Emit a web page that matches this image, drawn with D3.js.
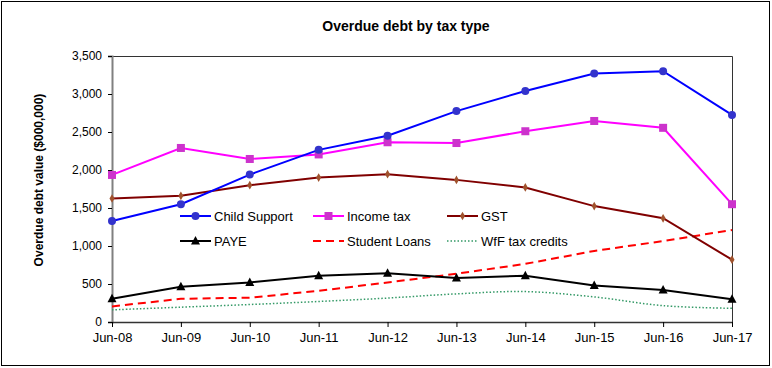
<!DOCTYPE html>
<html>
<head>
<meta charset="utf-8">
<style type="text/css">
	body{ margin:0; background:#fff; }
	svg{ display:block; font-family:"Liberation Sans", Arial, sans-serif; }
</style>
<script src="https://cdn.jsdelivr.net/npm/d3@7"></script>
</head>
<body>
<svg id="svg" width="772" height="368"></svg>
<script type="text/javascript">

	var years = ["Jun-08","Jun-09","Jun-10","Jun-11","Jun-12","Jun-13","Jun-14","Jun-15","Jun-16","Jun-17"];
	var childSupport = [1330,1550,1940,2265,2450,2775,3040,3270,3300,2725];
	var incomeTax = [1935,2290,2145,2205,2365,2355,2510,2645,2555,1550];
	var gst = [1625,1660,1800,1900,1945,1870,1770,1525,1365,820];
	var paye = [305,465,520,610,640,580,610,480,420,300];
	var studentLoans = [205,305,320,410,520,635,765,935,1065,1210];
	var wff = [160,195,230,270,315,370,400,330,215,180];
	var yTicks = [0,500,1000,1500,2000,2500,3000,3500];

	var series = [
		{name:"Child Support", values:childSupport, color:"#0000ff", fill:"#3333cc", marker:"circle"},
		{name:"Income tax", values:incomeTax, color:"#ff00ff", fill:"#cc33cc", marker:"square"},
		{name:"GST", values:gst, color:"#800000", fill:"#a0522d", marker:"diamond"},
		{name:"PAYE", values:paye, color:"#000000", fill:"#000000", marker:"triangle"},
		{name:"Student Loans", values:studentLoans, color:"#ff0000", dash:"8,5", marker:null},
		{name:"WfF tax credits", values:wff, color:"#339966", dash:"1.5,2", marker:null, smooth:true}
	];

	var svg = d3.select("#svg");
	var pLeft = 112, pRight = 732, pTop = 56, pBottom = 322;

	var x = d3.scalePoint().domain(years).range([pLeft, pRight]);
	var y = d3.scaleLinear().domain([0,3500]).range([pBottom, pTop]);

	// outer frame
	svg.append("rect").attr("x",1.5).attr("y",1.5).attr("width",768).attr("height",364)
		.style("fill","#fff").style("stroke","#000").style("stroke-width",1);

	// title
	svg.append("text").attr("x",406).attr("y",31).attr("text-anchor","middle")
		.style("font-size","14px").style("font-weight","bold").text("Overdue debt by tax type");

	// y label
	svg.append("text").attr("transform","translate(43,180) rotate(-90)").attr("text-anchor","middle")
		.style("font-size","12px").style("font-weight","bold").text("Overdue debt value ($000,000)");

	// plot area border
	svg.append("path").attr("d","M"+pLeft+","+(pTop+0.5)+"H"+(pRight+0.5)+"V"+pBottom)
		.style("fill","none").style("stroke","#333").style("stroke-width",1);

	// axes
	var yAxis = svg.append("g").attr("transform","translate("+pLeft+",0)")
		.call(d3.axisLeft(y).tickValues(yTicks).tickSize(4).tickPadding(6).tickFormat(d3.format(",")));
	yAxis.select(".domain").style("stroke","#808080").style("stroke-width",2);
	yAxis.selectAll(".tick line").style("stroke","#000");
	yAxis.selectAll("text").style("font-size","12px").style("font-family","Liberation Sans, Arial, sans-serif").style("fill","#000");

	var xAxis = svg.append("g").attr("transform","translate(0,"+pBottom+")")
		.call(d3.axisBottom(x).tickSize(5).tickPadding(6).tickSizeOuter(0));
	xAxis.select(".domain").style("stroke","#333").style("stroke-width",1.5);
	xAxis.selectAll("text").style("font-size","13px").style("font-family","Liberation Sans, Arial, sans-serif").style("fill","#000");

	function drawMarker(g, type, cx, cy, fill){
		if(type==="circle"){
			g.append("circle").attr("cx",cx).attr("cy",cy).attr("r",4).style("fill",fill);
		} else if(type==="square"){
			g.append("rect").attr("x",cx-4).attr("y",cy-4).attr("width",8).attr("height",8).style("fill",fill);
		} else if(type==="diamond"){
			g.append("path").attr("d",d3.symbol(d3.symbolDiamond,22)()).attr("transform","translate("+cx+","+cy+")").style("fill",fill);
		} else if(type==="triangle"){
			g.append("path").attr("d","M"+cx+","+(cy-5)+"L"+(cx+4.5)+","+(cy+3.5)+"L"+(cx-4.5)+","+(cy+3.5)+"Z").style("fill",fill);
		}
	}

	// lines, drawn from the back
	var order = [5,4,3,2,1,0];
	order.forEach(function(i){
		var s = series[i];
		var line = d3.line()
			.x(function(d,j){ return x(years[j]); })
			.y(function(d){ return y(d); })
			.curve(s.smooth ? d3.curveCatmullRom.alpha(0.5) : d3.curveLinear);
		var g = svg.append("g");
		g.append("path").attr("d", line(s.values))
			.style("fill","none").style("stroke",s.color).style("stroke-width", s.dash ? (s.smooth ? 1.5 : 2) : 2)
			.style("stroke-dasharray", s.dash || null);
		if(s.marker){
			s.values.forEach(function(v,j){ drawMarker(g, s.marker, x(years[j]), y(v), s.fill); });
		}
	});

	// legend
	var legX = [180, 313, 447], legY = [216, 241];
	series.forEach(function(s,i){
		var lx = legX[i%3], ly = legY[Math.floor(i/3)];
		var g = svg.append("g");
		g.append("line").attr("x1",lx).attr("x2",lx+31).attr("y1",ly).attr("y2",ly)
			.style("stroke",s.color).style("stroke-width", s.smooth ? 1.5 : 2).style("stroke-dasharray", s.dash || null);
		if(s.marker) drawMarker(g, s.marker, lx+15.5, ly, s.fill);
		g.append("text").attr("x",lx+34).attr("y",ly+4.5).style("font-size","13px").text(s.name);
	});

</script>
</body>
</html>
